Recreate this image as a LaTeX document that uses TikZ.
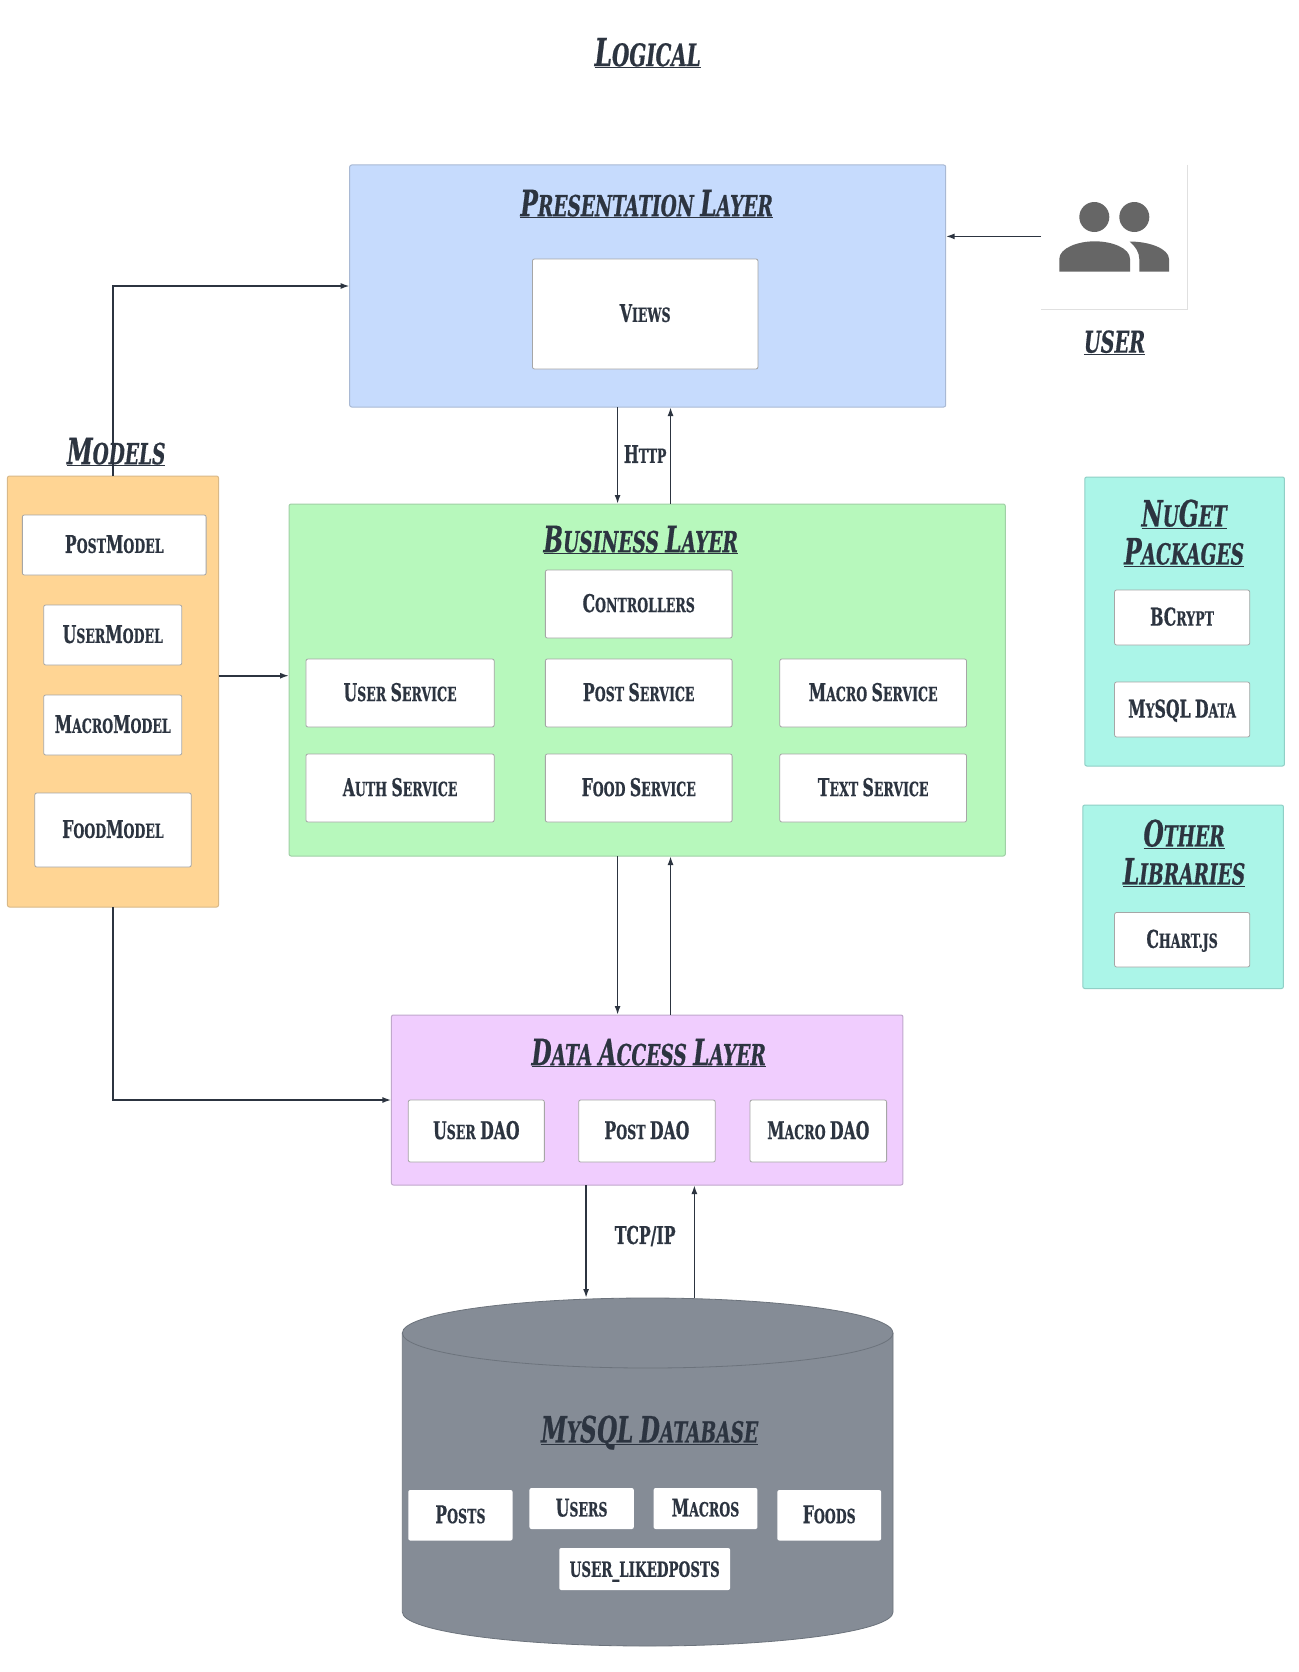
\documentclass[tikz,border=0pt]{standalone}
\usepackage{fontspec}
\usetikzlibrary{arrows.meta}
\newfontfamily\lf[FakeStretch=0.64,FakeBold=0.6]{DejaVu Serif}
\makeatletter
\newcommand\U[1]{{\fontsize{\strip@pt\dimexpr\f@size pt*5/4\relax}{0}\selectfont #1}}
\makeatother
\newcommand\ttl[1]{\setbox0\hbox{\lf\bfseries\itshape #1}\dp0=0pt $\underline{\box0}$}
\definecolor{inkc}{HTML}{2C3440}
\definecolor{bluef}{HTML}{C6DBFD}
\definecolor{blued}{HTML}{A9B9D4}
\definecolor{greenf}{HTML}{B7F8BC}
\definecolor{greend}{HTML}{A0D0A6}
\definecolor{orangef}{HTML}{FFD594}
\definecolor{oranged}{HTML}{D9B988}
\definecolor{purplef}{HTML}{F0CDFE}
\definecolor{purpled}{HTML}{C0A8CC}
\definecolor{tealf}{HTML}{ABF5E8}
\definecolor{teald}{HTML}{90CFC6}
\definecolor{grayf}{HTML}{858C96}
\definecolor{grayd}{HTML}{6C737C}
\definecolor{iconc}{HTML}{666666}
\tikzset{
  area/.style={rectangle,rounded corners=2pt,line width=1pt,outer sep=0pt,inner sep=0pt},
  item/.style={rectangle,rounded corners=2pt,draw=black!35,line width=0.8pt,fill=white,outer sep=0pt,inner sep=0pt,
     text=inkc,text depth=2pt,font=\fontsize{19.6}{22}\selectfont\lf\bfseries},
  dbitem/.style={item,draw=none},
  title/.style={text=inkc,inner sep=0pt,align=center,font=\fontsize{29}{38}\selectfont},
  conn/.style={draw=inkc,line width=1.7pt,-{Latex[length=9pt,width=6pt]}},
  tag/.style={text=inkc,inner sep=0pt,font=\fontsize{19.6}{22}\selectfont\lf\bfseries},
}
\newcommand\BX[7]{\node[#1,minimum width={(#5-#3)*0.99338pt},minimum height={(#6-#4)*1pt}] (#2) at ({(#3+#5)/2},{(#4+#6)/2}) {#7};}
\begin{document}
\begin{tikzpicture}[x=0.99338pt,y=-1pt]
\useasboundingbox (0,0) rectangle (1306.65,1672);
\fill[white] (0,0) rectangle (1306.65,1672);
% title
\node[title,font=\fontsize{31}{38}\selectfont] (logical) at (652,53) {\ttl{\U{L}OGICAL}};
% database
\fill[grayf,draw=grayd,line width=0.8pt] (405,1333) -- (405,1612)
  arc[start angle=180,end angle=0,x radius=247,y radius=34] -- (899,1333)
  arc[start angle=0,end angle=-180,x radius=247,y radius=35] -- cycle;
\draw[grayd,line width=0.8pt] (405,1333) arc[start angle=180,end angle=0,x radius=247,y radius=35];
\coordinate (dbtop) at (652,1298);
\node[title] (dbtitle) at (654,1430) {\ttl{\U{M}Y\U{SQL} \U{D}ATABASE}};
% layers
\BX{area,fill=bluef,draw=blued}{pres}{352}{165}{952}{407}{}
\BX{area,fill=greenf,draw=greend}{bus}{291}{504}{1012}{856}{}
\BX{area,fill=orangef,draw=oranged}{models}{7.5}{476}{220}{907}{}
\BX{area,fill=purplef,draw=purpled}{dal}{394}{1015}{909}{1185}{}
\BX{area,fill=tealf,draw=teald}{nuget}{1092}{477}{1293}{766}{}
\BX{area,fill=tealf,draw=teald}{other}{1090}{805}{1292}{988.5}{}
% layer titles
\node[title] (prest) at (651,204) {\ttl{\U{P}RESENTATION \U{L}AYER}};
\node[title] (bust) at (645,540) {\ttl{\U{B}USINESS \U{L}AYER}};
\node[title] (dalt) at (653,1053) {\ttl{\U{D}ATA \U{A}CCESS \U{L}AYER}};
\node[title] (modt) at (117,452) {\ttl{\U{M}ODELS}};
\node[title] (nugt) at (1192,533) {\ttl{\U{N}U\U{G}ET}\\\ttl{\U{P}ACKAGES}};
\node[title] (otht) at (1192,853) {\ttl{\U{O}THER}\\\ttl{\U{L}IBRARIES}};
\node[title,font=\fontsize{30}{30}\selectfont] (usert) at (1122,342.5) {\ttl{USER}};
% presentation
\BX{item}{views}{536}{259}{763}{369}{\U{V}IEWS}
% models
\BX{item}{postm}{22.5}{515}{207.5}{575}{\U{P}OST\U{M}ODEL}
\BX{item}{userm}{44}{605}{183}{665}{\U{U}SER\U{M}ODEL}
\BX{item}{macrom}{44}{695}{183}{755}{\U{M}ACRO\U{M}ODEL}
\BX{item}{foodm}{35}{793}{192.5}{867}{\U{F}OOD\U{M}ODEL}
% business
\BX{item}{ctrl}{549}{570}{737}{638}{\U{C}ONTROLLERS}
\BX{item}{users}{308}{659}{497.5}{727}{\U{U}SER \U{S}ERVICE}
\BX{item}{posts}{549}{659}{737}{727}{\U{P}OST \U{S}ERVICE}
\BX{item}{macros}{785}{659}{973}{727}{\U{M}ACRO \U{S}ERVICE}
\BX{item}{auths}{308}{754}{497.5}{822}{\U{A}UTH \U{S}ERVICE}
\BX{item}{foods}{549}{754}{737}{822}{\U{F}OOD \U{S}ERVICE}
\BX{item}{texts}{785}{754}{973}{822}{\U{T}EXT \U{S}ERVICE}
% data access
\BX{item}{userd}{411}{1100}{548}{1162}{\U{U}SER \U{DAO}}
\BX{item}{postd}{582.5}{1100}{720}{1162}{\U{P}OST \U{DAO}}
\BX{item}{macrod}{755}{1100}{892.5}{1162}{\U{M}ACRO \U{DAO}}
% libraries
\BX{item}{bcrypt}{1122}{590}{1258}{645}{\U{BC}RYPT}
\BX{item}{mysqld}{1122}{682}{1258}{737}{\U{M}Y\U{SQL} \U{D}ATA}
\BX{item}{chart}{1122}{912.5}{1258}{967}{\U{C}HART.JS}
% db tables
\BX{dbitem}{tposts}{411}{1490}{516}{1540.5}{\U{P}OSTS}
\BX{dbitem}{tusers}{533}{1488}{638}{1529}{\U{U}SERS}
\BX{dbitem}{tmacros}{658}{1488}{762.5}{1529}{\U{M}ACROS}
\BX{dbitem}{tfoods}{782.5}{1490}{887}{1540.5}{\U{F}OODS}
\BX{dbitem,text depth=0pt,font=\fontsize{21}{22}\selectfont\lf\bfseries}{tliked}{563}{1548}{735}{1590}{USER\_LIKEDPOSTS}
% user
\BX{rectangle,fill=white,outer sep=0pt,inner sep=0pt}{user}{1048}{165}{1195}{309}{}
\draw[black!12,line width=1pt] (user.north east) -- (user.south east) -- (user.south west);
\begin{scope}[x=1pt,y=-1pt]
\fill[iconc] (1094.3,217) circle[radius=15] (1134.3,217) circle[radius=15];
\fill[iconc] (1059.3,271.7) -- (1059.3,259) .. controls (1059.3,248) and (1078,241.3) .. (1094.6,241.3)
  .. controls (1112,241.3) and (1130,248) .. (1130,259) -- (1130,271.7) -- cycle;
\fill[iconc] (1139.3,271.7) -- (1139.3,259) .. controls (1139.3,252) and (1135,246) .. (1129.5,241.5)
  .. controls (1150,241.5) and (1169,249) .. (1169,259) -- (1169,271.7) -- cycle;
\end{scope}
% connectors
\coordinate (cd) at (621.7,0);
\coordinate (cu) at (675,0);
\coordinate (td) at (590,0);
\coordinate (tu) at (699,0);
\draw[conn] (user.west |- 0,236.4) -- (pres.east |- 0,236.4);
\draw[conn] (models.north) |- (pres.west);
\draw[conn] (models.east |- 0,675.7) -- (bus.west |- 0,675.7);
\draw[conn] (models.south) |- (dal.west |- 0,1100);
\draw[conn] (cd |- pres.south) -- (cd |- bus.north);
\draw[conn] (cu |- bus.north) -- (cu |- pres.south);
\draw[conn] (cd |- bus.south) -- (cd |- dal.north);
\draw[conn] (cu |- dal.north) -- (cu |- bus.south);
\draw[conn] (td |- dal.south) -- (td |- dbtop);
\draw[conn] (tu |- dbtop) -- (tu |- dal.south);
\node[tag] (http) at (649.5,454) {\U{H}TTP};
\node[tag] (tcp) at (649.5,1236) {\U{TCP/IP}};
\end{tikzpicture}
\end{document}
